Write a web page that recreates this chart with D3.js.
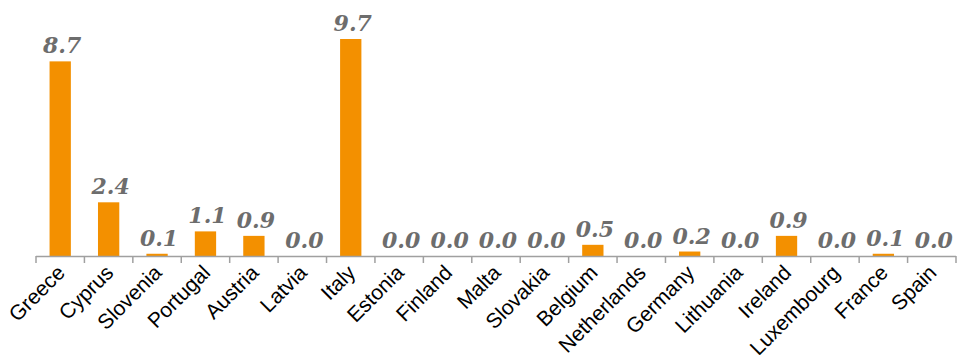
<!DOCTYPE html>
<html>
<head>
<meta charset="utf-8">
<script src="https://cdn.jsdelivr.net/npm/d3@7"></script>
<style>
html,body{margin:0;padding:0;background:#fff;}
svg{display:block;}
</style>
</head>
<body>
<svg id="chart" width="965" height="355"></svg>
<script>
const countries = ["Greece","Cyprus","Slovenia","Portugal","Austria","Latvia","Italy","Estonia","Finland","Malta","Slovakia","Belgium","Netherlands","Germany","Lithuania","Ireland","Luxembourg","France","Spain"];
const values = [8.7,2.4,0.1,1.1,0.9,0.0,9.7,0.0,0.0,0.0,0.0,0.5,0.0,0.2,0.0,0.9,0.0,0.1,0.0];

const svg = d3.select("#chart");
const left = 36, right = 956, baseY = 256, topY = 39;

const x = d3.scaleBand().domain(countries).range([left, right]).paddingInner(0.56).paddingOuter(0.28);
const y = d3.scaleLinear().domain([0, 9.7]).range([baseY, topY]);

const data = countries.map((c,i)=>({c, v: values[i]}));

svg.append("g").selectAll("rect").data(data).join("rect")
  .attr("x", d=>x(d.c))
  .attr("width", x.bandwidth())
  .attr("y", d=>y(d.v))
  .attr("height", d=>baseY - y(d.v))
  .attr("fill", "#f39000");

// axis
const step = (right-left)/countries.length;
const axisG = svg.append("g");
axisG.append("line").attr("x1", left).attr("x2", right).attr("y1", baseY+0.5).attr("y2", baseY+0.5)
  .attr("stroke", "#a0a0a0").attr("stroke-width", 1.5);
axisG.selectAll("line.tick").data(d3.range(countries.length+1)).join("line")
  .attr("class","tick")
  .attr("x1", i=>left + i*step).attr("x2", i=>left + i*step)
  .attr("y1", baseY).attr("y2", baseY+7)
  .attr("stroke", "#a0a0a0").attr("stroke-width", 1.5);

// value labels
svg.append("g").selectAll("text").data(data).join("text")
  .attr("x", d=>x(d.c)+x.bandwidth()/2+2)
  .attr("y", d=>y(d.v)-8)
  .attr("text-anchor","middle")
  .attr("font-family","'DejaVu Serif', 'Liberation Serif', serif")
  .attr("font-weight","bold")
  .attr("font-style","italic")
  .attr("font-size", 22)
  .attr("fill","#6d6d6d")
  .text(d=>d.v.toFixed(1));

// category labels
svg.append("g").selectAll("text").data(data).join("text")
  .attr("transform", d=>`translate(${x(d.c)+x.bandwidth()/2+6},${baseY+18}) rotate(-45)`)
  .attr("text-anchor","end")
  .attr("font-family","'Liberation Sans', Arial, sans-serif")
  .attr("font-size", 21)
  .attr("fill","#000")
  .text(d=>d.c);
</script>
</body>
</html>
